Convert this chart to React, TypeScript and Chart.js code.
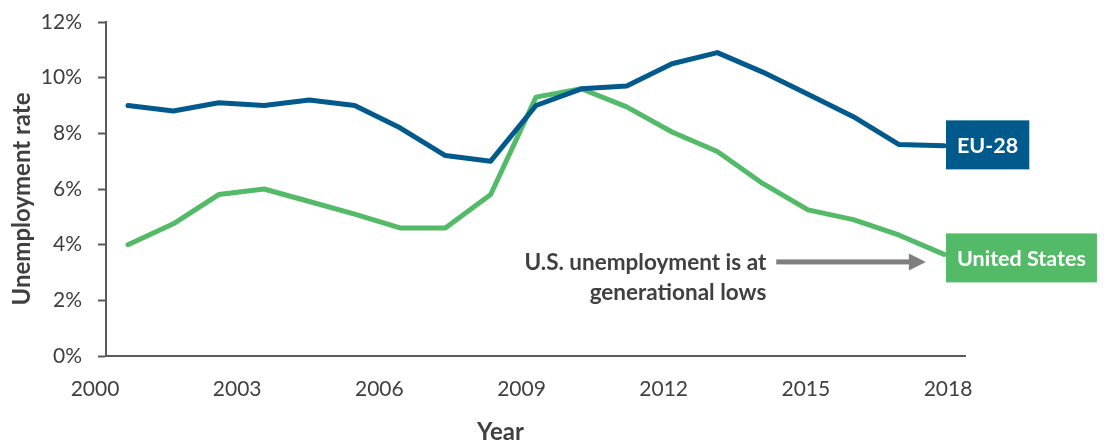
import React, { useEffect, useRef } from "react";
import { Chart, registerables } from "chart.js";

Chart.register(...registerables);

const years = [2000, 2001, 2002, 2003, 2004, 2005, 2006, 2007, 2008, 2009, 2010, 2011, 2012, 2013, 2014, 2015, 2016, 2017, 2018];
const euValues = [9.0, 8.8, 9.1, 9.0, 9.2, 9.0, 8.2, 7.2, 7.0, 9.0, 9.6, 9.7, 10.5, 10.9, 10.2, 9.4, 8.6, 7.6, 7.55];
const usValues = [4.0, 4.75, 5.8, 6.0, 5.55, 5.1, 4.6, 4.6, 5.8, 9.3, 9.6, 8.95, 8.05, 7.35, 6.2, 5.25, 4.9, 4.35, 3.65];
const xTickYears = [2000, 2003, 2006, 2009, 2012, 2015, 2018];
const yTickValues = [0, 2, 4, 6, 8, 10, 12];
const seriesNames = ["EU-28", "United States"];
const annotationLines = ["U.S. unemployment is at", "generational lows"];
const annotationLevel = 3.38;
const arrowFromYear = 2014.3;
const arrowToYear = 2017.6;
const xTitle = "Year";
const yTitle = "Unemployment rate";

const BLUE = "#01598C";
const GREEN = "#53BA67";
const TEXT = "#404040";
const AXIS = "#5A5A5A";
const FONT = "Lato, 'Open Sans', sans-serif";

const annotPlugin = {
  id: "annot",
  afterDatasetsDraw(chart: any) {
    const ctx = chart.ctx;
    const xs = chart.scales.x;
    const ys = chart.scales.y;
    const ca = chart.chartArea;
    const colors = [BLUE, GREEN];
    const dy = [-1, 3.5];
    ctx.save();
    // end-of-line labels
    chart.data.datasets.forEach((ds: any, i: number) => {
      const meta = chart.getDatasetMeta(i);
      const last = meta.data[meta.data.length - 1];
      ctx.font = `bold 21.5px ${FONT}`;
      const tw = ctx.measureText(seriesNames[i]).width;
      const bh = 49;
      const bw = tw + 22;
      const bx = last.x + 2;
      const by = last.y + dy[i] - bh / 2;
      ctx.fillStyle = colors[i];
      ctx.fillRect(bx, by, bw, bh);
      ctx.fillStyle = "#ffffff";
      ctx.textAlign = "center";
      ctx.textBaseline = "middle";
      ctx.fillText(seriesNames[i], bx + bw / 2, by + bh / 2 + 1);
    });
    // annotation text
    const ay = ys.getPixelForValue(annotationLevel);
    const ax0 = xs.getPixelForValue(arrowFromYear);
    const ax1 = xs.getPixelForValue(arrowToYear);
    ctx.font = `bold 22.5px ${FONT}`;
    ctx.fillStyle = TEXT;
    ctx.textAlign = "right";
    ctx.textBaseline = "middle";
    annotationLines.forEach((t, k) => {
      ctx.fillText(t, ax0 - 10, ay + 1 + k * 30);
    });
    // arrow
    ctx.fillStyle = "#7F7F7F";
    const head = 17;
    ctx.fillRect(ax0, ay - 2.5, ax1 - ax0 - head + 1, 5);
    ctx.beginPath();
    ctx.moveTo(ax1 - head, ay - 8.5);
    ctx.lineTo(ax1, ay);
    ctx.lineTo(ax1 - head, ay + 8.5);
    ctx.closePath();
    ctx.fill();
    // axis titles
    ctx.font = `bold 24px ${FONT}`;
    ctx.fillStyle = TEXT;
    ctx.textAlign = "center";
    ctx.textBaseline = "middle";
    ctx.fillText(xTitle, (ca.left + ca.right) / 2 - 35, 432);
    ctx.translate(22, (ca.top + ca.bottom) / 2 + 10);
    ctx.rotate(-Math.PI / 2);
    ctx.fillText(yTitle, 0, 0);
    ctx.restore();
  },
};

export default function App() {
  const ref = useRef<HTMLCanvasElement>(null);
  useEffect(() => {
    document.body.style.margin = "0";
    const chart = new Chart(ref.current as HTMLCanvasElement, {
      type: "line",
      data: {
        datasets: [
          {
            label: seriesNames[0],
            data: years.map((y, i) => ({ x: y, y: euValues[i] })),
            borderColor: BLUE,
            borderWidth: 5,
            pointRadius: 0,
            borderCapStyle: "round",
            borderJoinStyle: "round",
            xAxisID: "x",
          },
          {
            label: seriesNames[1],
            data: years.map((y, i) => ({ x: y, y: usValues[i] })),
            borderColor: GREEN,
            borderWidth: 5,
            pointRadius: 0,
            borderCapStyle: "round",
            borderJoinStyle: "round",
            xAxisID: "x",
          },
        ],
      },
      options: {
        animation: false,
        responsive: true,
        maintainAspectRatio: false,
        layout: { padding: { left: 0, top: 22, right: 145, bottom: 0 } },
        plugins: { legend: { display: false }, tooltip: { enabled: false } },
        scales: {
          x: {
            type: "linear",
            display: false,
            min: 1999.5147,
            max: 2018.463,
          },
          xl: {
            type: "linear",
            position: "bottom",
            min: 2000,
            max: 2018.126,
            afterBuildTicks: (s: any) => {
              s.ticks = xTickYears.map((v) => ({ value: v }));
            },
            afterFit: (s: any) => {
              s.height = 87;
              s.paddingLeft = 0;
              s.paddingRight = 0;
            },
            grid: { drawOnChartArea: false, drawTicks: false },
            border: { display: true, color: AXIS, width: 2 },
            ticks: {
              padding: 21,
              labelOffset: -11,
              color: TEXT,
              font: { family: FONT, size: 21 },
              maxRotation: 0,
              autoSkip: false,
              callback: (v: any) => String(v),
            },
          },
          y: {
            type: "linear",
            min: 0,
            max: 12,
            afterBuildTicks: (s: any) => {
              s.ticks = yTickValues.map((v) => ({ value: v }));
            },
            afterFit: (s: any) => {
              s.width = 106;
              s.paddingTop = 0;
              s.paddingBottom = 0;
            },
            grid: { drawOnChartArea: false, drawTicks: true, tickLength: 8, tickColor: AXIS, tickWidth: 2 },
            border: { display: true, color: AXIS, width: 2 },
            ticks: {
              padding: 16,
              color: TEXT,
              font: { family: FONT, size: 21 },
              callback: (v: any) => v + "%",
            },
          },
        },
      },
      plugins: [annotPlugin],
    });
    return () => chart.destroy();
  }, []);
  return (
    <div style={{ width: 1110, height: 443, position: "relative" }}>
      <canvas ref={ref} />
    </div>
  );
}
